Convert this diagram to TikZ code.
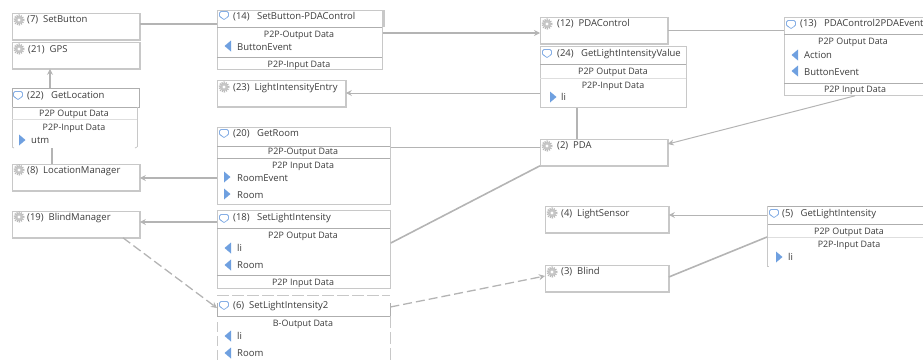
\documentclass[tikz,border=0pt]{standalone}
\usepackage{fontspec}
\setmainfont{Open Sans}
\usetikzlibrary{arrows.meta}
\definecolor{edgeg}{HTML}{B4B4B4}
\definecolor{boxg}{HTML}{C8C8C8}
\definecolor{lineg}{HTML}{9A9A9A}
\definecolor{txt}{HTML}{3C3C3C}
\definecolor{iconb}{HTML}{6FA0E0}
\newcount\lblcount
\newcommand{\lbl}[3]{\global\advance\lblcount by 1 \node[lab] (L\the\lblcount) at (#1,#2) {#3};}
\newcommand{\clbl}[3]{\global\advance\lblcount by 1 \node[clab] (L\the\lblcount) at (#1,#2) {#3};}
\newcommand{\gearicon}[2]{\fill[gray!45] (#1,#2) circle (4.2pt);\draw[gray!55,line width=1.6pt,dash pattern=on 1.1pt off 1.1pt] (#1,#2) circle (4.8pt);\fill[white] (#1,#2) circle (1.7pt);}
\newcommand{\bubbleicon}[2]{\draw[iconb!85,line width=.8pt,rounded corners=1.5pt] ({#1-4.5},{#2-3.5}) rectangle ({#1+4.5},{#2+2.5});\fill[white] ({#1-2},{#2+1.5}) rectangle ({#1+3},{#2+3.2});\draw[iconb!85,line width=.7pt] ({#1-3},{#2+2.5}) -- ({#1},{#2+4.5}) -- ({#1+3},{#2+2.5});}
\newcommand{\intri}[2]{\fill[iconb] ({#1-3},{#2-5.5}) -- ({#1+3.5},{#2}) -- ({#1-3},{#2+5.5}) -- cycle;}
\newcommand{\outtri}[2]{\fill[iconb] ({#1+3},{#2-5.5}) -- ({#1-3.5},{#2}) -- ({#1+3},{#2+5.5}) -- cycle;}
\tikzset{
  x=1pt,y=-1pt,
  comp/.style={draw=boxg,line width=.8pt,fill=white,anchor=north west,inner sep=0pt,minimum width=#1,minimum height=26pt},
  msg/.style 2 args={draw=boxg,line width=.8pt,fill=white,anchor=north west,inner sep=0pt,minimum width=#1,minimum height=#2},
  msgopen/.style 2 args={draw=none,fill=white,anchor=north west,inner sep=0pt,minimum width=#1,minimum height=#2},
  lab/.style={anchor=west,inner sep=0pt,text=txt,font=\fontsize{9.5}{10}\selectfont},
  clab/.style={anchor=center,inner sep=0pt,text=txt,font=\fontsize{8.9}{10}\selectfont},
  shadowline/.style={draw=boxg,line width=1.5pt},
  sep/.style={draw=lineg!80,line width=.7pt},
  sepl/.style={draw=boxg!60,line width=.6pt},
  side/.style={draw=boxg,line width=.8pt},
  thick conn/.style={draw=edgeg,line width=1.6pt},
  thin conn/.style={draw=edgeg,line width=1pt},
  tip/.style={-{Stealth[length=6pt,width=6pt]}},
  dash conn/.style={draw=edgeg,line width=1.3pt,dash pattern=on 9pt off 4pt},
}
\begin{document}
\begin{tikzpicture}
\useasboundingbox (0,0) rectangle (923,362);
\clip (0,0) rectangle (923,362);
% components
\node[comp=127pt] (sb) at (12,13) {};
\node[comp=127pt] (gps) at (12,42) {};
\node[comp=127pt] (lm) at (12,164) {};
\node[comp=127pt] (bm) at (12,211) {};
\node[comp=128pt] (lie) at (217,80) {};
\node[comp=127pt] (pc) at (540,17) {};
\node[comp=127pt] (pda) at (540,139) {};
\node[comp=123pt] (ls) at (545,206) {};
\node[comp=123pt] (bl) at (545,265) {};
\foreach \n in {sb,gps,lm,bm,lie,pc,pda,ls,bl}
  \draw[shadowline] (\n.south west) -- (\n.south east) -- (\n.north east);
% messages
\node[msgopen={127pt}{60pt}] (gl) at (12,88) {};
\node[msg={165pt}{59pt}] (sbp) at (217,10) {};
\node[msg={173pt}{77pt}] (gr) at (217,127) {};
\node[msg={173pt}{78pt}] (sli) at (217,210) {};
\node[msgopen={173pt}{67pt}] (sli2) at (217,295) {};
\node[msg={146pt}{61pt}] (glv) at (540,46) {};
\node[msgopen={170pt}{60pt}] (gli) at (767,206) {};
\node[msg={150pt}{78pt}] (pe) at (784,17) {};
% separators and sides
\draw[sep] (12,88) -- (139,88) -- (139,107) -- (12,107) -- cycle;
\draw[side] (12,107) -- (12,147) (137,107) -- (137,147);
\draw[side] (12,147) -- (14,148) (135,148) -- (137,147);
\draw[sepl] (12,119) -- (137,119);
\draw[sep] (217,27) -- (382,27) (217,57) -- (382,57);
\draw[shadowline] (384,10) -- (384,27);
\draw[sep] (217,146) -- (390,146) (217,158) -- (390,158);
\draw[sep] (217,228) -- (390,228) (217,275) -- (390,275);
\draw[sep] (540,64) -- (686,64);
\draw[sepl] (540,78) -- (686,78);
\draw[sep] (784,34) -- (923,34) (784,83) -- (923,83);
\draw[sep] (767,206) -- (923,206) (767,224) -- (923,224);
\draw[sepl] (767,237) -- (923,237);
\draw[side] (767,206) -- (767,266) -- (769,266);
% dashed message 6
\draw[side,dash pattern=on 12pt off 3pt] (217,295) -- (390,295);
\draw[sep] (217,303) -- (217,316) -- (390,316) (390,303) -- (390,316);
\draw[side,dash pattern=on 10pt off 4pt] (217,322) -- (217,362);
\draw[side,dash pattern=on 12pt off 4pt] (390,316) -- (390,362);
% connectors
\draw[thick conn] ([yshift=-11pt]sb.north east) -- ([yshift=-14pt]sbp.north west);
\draw[thick conn,tip] ([yshift=-23pt]sbp.north east) -- ([yshift=-16pt]pc.north west);
\draw[thin conn] ([yshift=-13pt]pc.north east) -- ([yshift=-13pt]pe.north west);
\draw[thin conn,tip] ([yshift=-47pt]glv.north west) -- ([yshift=-13pt]lie.north east);
\draw[thick conn] ([xshift=37pt]glv.south west) -- ([xshift=37pt]pda.north west);
\draw[thin conn,tip] ([xshift=71pt]pe.south west) -- ([yshift=-5pt]pda.north east);
\draw[thin conn] ([yshift=-20pt]gr.north east) -- ([yshift=-8pt]pda.north west);
\draw[thick conn] ([yshift=-33pt]sli.north east) -- (pda.south west);
\draw[thick conn,tip] ([yshift=-51pt]gr.north west) -- ([yshift=-14pt]lm.north east);
\draw[thick conn,tip] ([yshift=-12pt]sli.north west) -- ([yshift=-11pt]bm.north east);
\draw[thick conn,tip] ([xshift=38pt]gl.north west) -- ([xshift=38pt]gps.south west);
\draw[thick conn] ([xshift=40pt]lm.north west) -- ([xshift=40pt]gl.south west);
\draw[dash conn,tip] ([xshift=111pt]bm.south west) -- ([yshift=-13pt]sli2.north west);
\draw[dash conn,tip] ([yshift=-12pt]sli2.north east) -- ([yshift=-11pt]bl.north west);
\draw[thin conn,tip] ([yshift=-9pt]gli.north west) -- ([yshift=-9pt]ls.north east);
\draw[thick conn] ([yshift=-31pt]gli.north west) -- ([yshift=-12pt]bl.north east);
% icons
\gearicon{19}{20}\gearicon{19}{49}\gearicon{19}{170}\gearicon{19}{217}
\gearicon{224}{87}\gearicon{547}{24}\gearicon{547}{146}\gearicon{552}{213}\gearicon{552}{272}
\bubbleicon{18}{95}\bubbleicon{224}{15}\bubbleicon{224}{133}\bubbleicon{224}{218}\bubbleicon{224}{305}
\bubbleicon{547}{53}\bubbleicon{774}{213}\bubbleicon{791}{24}
\intri{22}{140}\intri{227}{177}\intri{227}{194}\intri{553}{97}\intri{779}{257}
\outtri{228}{46}\outtri{228}{248}\outtri{228}{265}\outtri{228}{336}\outtri{228}{353}\outtri{795}{55}\outtri{795}{71}
% titles
\lbl{27}{20}{(7)\ \ SetButton}
\lbl{28}{50}{(21)\ \ GPS}
\lbl{27}{96}{(22)\ \ \ GetLocation}
\lbl{27}{171}{(8)\ \ LocationManager}
\lbl{27}{218}{(19)\ \ BlindManager}
\lbl{233}{17}{(14)\ \ \ SetButton-PDAControl}
\lbl{233}{88}{(23)\ \ LightIntensityEntry}
\lbl{233}{134}{(20)\ \ \ GetRoom}
\lbl{233}{218}{(18)\ \ \ SetLightIntensity}
\lbl{233}{306}{(6)\ \ SetLightIntensity2}
\lbl{557}{24}{(12)\ \ PDAControl}
\lbl{557}{54}{(24)\ \ \ GetLightIntensityValue}
\lbl{557}{146}{(2)\ \ PDA}
\lbl{561}{214}{(4)\ \ LightSensor}
\lbl{561}{272}{(3)\ \ Blind}
\lbl{782}{214}{(5)\ \ \ GetLightIntensity}
\lbl{800}{24}{(13)\ \ \ PDAControl2PDAEvent}
% ports and sections
\clbl{74}{114}{P2P Output Data}
\clbl{74}{128}{P2P-Input Data}
\lbl{31}{140}{utm}
\clbl{299}{35}{P2P-Output Data}
\lbl{237}{47}{ButtonEvent}
\clbl{299}{65}{P2P-Input Data}
\clbl{303}{152}{P2P-Output Data}
\clbl{303}{166}{P2P Input Data}
\lbl{237}{178}{RoomEvent}
\lbl{237}{195}{Room}
\clbl{303}{236}{P2P Output Data}
\lbl{237}{248}{li}
\lbl{237}{265}{Room}
\clbl{303}{283}{P2P Input Data}
\clbl{303}{324}{B-Output Data}
\lbl{237}{336}{li}
\lbl{237}{353}{Room}
\clbl{613}{72}{P2P Output Data}
\clbl{613}{86}{P2P-Input Data}
\lbl{561}{97}{li}
\clbl{853}{42}{P2P Output Data}
\lbl{804}{55}{Action}
\lbl{804}{72}{ButtonEvent}
\clbl{855}{90}{P2P Input Data}
\clbl{849}{232}{P2P Output Data}
\clbl{849}{245}{P2P-Input Data}
\lbl{788}{257}{li}
\end{tikzpicture}
\end{document}
